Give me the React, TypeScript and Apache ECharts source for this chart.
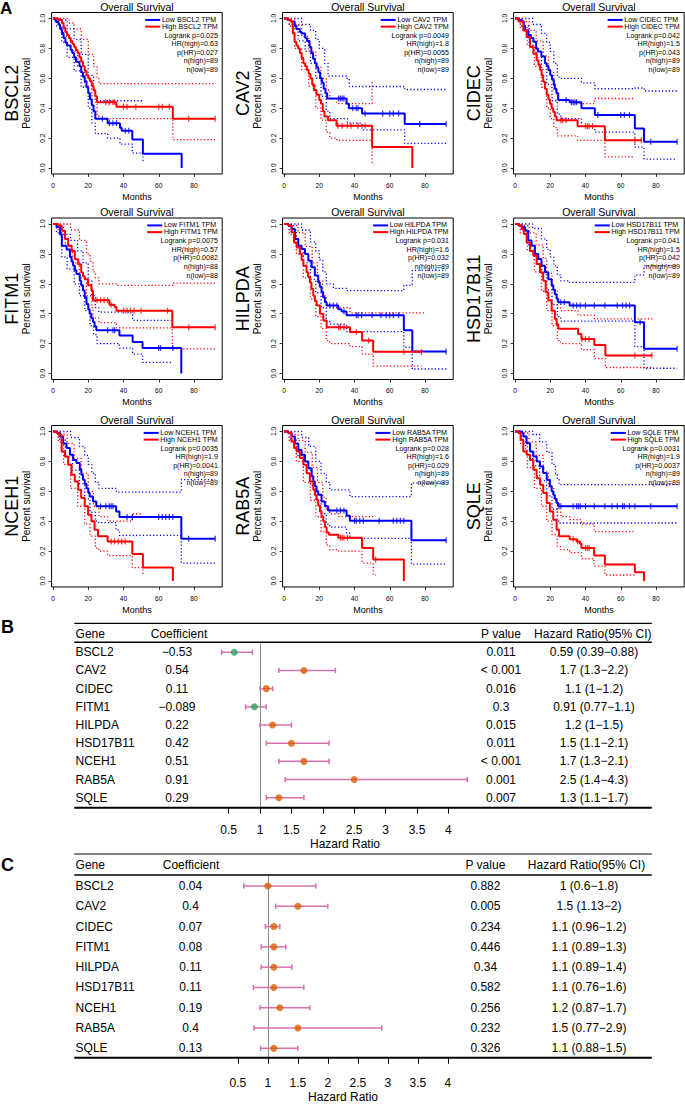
import React, { useEffect, useRef } from 'react';
import * as echarts from 'echarts';

// ---------------- KM panel data ----------------
const GENES = ['BSCL2', 'CAV2', 'CIDEC', 'FITM1', 'HILPDA', 'HSD17B11', 'NCEH1', 'RAB5A', 'SQLE'];
const LOGRANK_P = ['0.025', '0.0049', '0.042', '0.0075', '0.031', '0.041', '0.0035', '0.028', '0.0031'];
const HR_HIGH = ['0.63', '1.8', '1.5', '0.57', '1.6', '1.5', '1.9', '1.6', '1.9'];
const P_HR = ['0.027', '0.0055', '0.043', '0.0082', '0.032', '0.042', '0.0041', '0.029', '0.0037'];
const N_HIGH = [89, 89, 89, 88, 89, 89, 89, 89, 89];
const N_LOW = [89, 89, 89, 88, 89, 89, 89, 89, 89];
const KM_X_TICKS = [0, 20, 40, 60, 80];
const KM_Y_TICKS = [0, 0.2, 0.4, 0.6, 0.8, 1];

const BSCL2_LOW = [[0,1],[1.5,0.98],[3,0.96],[4,0.93],[5,0.9],[6,0.87],[7,0.84],[8,0.82],[10,0.79],[11,0.77],[12,0.74],[13,0.71],[15,0.68],[16,0.64],[17,0.61],[18,0.58],[19,0.54],[20,0.5],[21,0.46],[22,0.42],[23,0.38],[24,0.33],[31,0.3],[38,0.27],[39,0.25],[45,0.19],[51,0.095],[73,0]];
const BSCL2_LOW_CENS = [[28,0.33],[32,0.3],[34,0.3],[36,0.3],[41,0.25],[43,0.25]];
const BSCL2_LOW_UP = [[0,1],[4,0.99],[8,0.93],[12,0.86],[16,0.76],[20,0.62],[23,0.52],[24,0.45],[51,0.45]];
const BSCL2_LOW_DN = [[0,1],[2,0.95],[5,0.84],[8,0.74],[12,0.65],[16,0.54],[20,0.4],[22,0.3],[24,0.23],[31,0.2],[38,0.16],[45,0.1],[51,0.04]];
const BSCL2_HIGH = [[0,1],[3,0.99],[5,0.97],[6,0.94],[7,0.91],[8,0.89],[9,0.87],[10,0.85],[11,0.83],[12,0.81],[13,0.79],[14,0.77],[15,0.74],[16,0.71],[17,0.68],[18,0.65],[19,0.62],[20,0.6],[21,0.58],[22,0.55],[23,0.52],[24,0.48],[25,0.44],[36,0.41],[68,0.33],[92,0.33]];
const BSCL2_HIGH_CENS = [[30,0.44],[32,0.44],[34,0.44],[35,0.44],[40,0.41],[42,0.41],[47,0.41],[60,0.41],[62,0.41],[66,0.41],[77,0.33],[92,0.33]];
const BSCL2_HIGH_UP = [[0,1],[6,1],[9,0.97],[12,0.93],[16,0.86],[20,0.76],[23,0.68],[25,0.6],[26,0.565],[92,0.565]];
const BSCL2_HIGH_DN = [[0,1],[3,0.97],[6,0.88],[10,0.78],[14,0.68],[18,0.55],[22,0.44],[25,0.35],[26,0.33],[68,0.19],[92,0.19]];

const CAV2_LOW = [[0,1],[2,0.99],[4,0.98],[6,0.95],[7,0.93],[9,0.91],[10,0.9],[12,0.87],[13,0.85],[14.5,0.81],[15.5,0.77],[16.5,0.73],[17.5,0.7],[18.5,0.67],[19.5,0.64],[20.5,0.6],[21.5,0.57],[22.5,0.53],[23.5,0.5],[24.5,0.465],[35.5,0.43],[36.8,0.4],[44.3,0.365],[68.5,0.295],[92,0.295]];
const CAV2_LOW_CENS = [[31,0.465],[32,0.465],[33,0.465],[34,0.465],[39,0.4],[41,0.4],[42,0.4],[46,0.365],[56,0.365],[60,0.365],[62,0.365],[65,0.365],[77,0.295],[92,0.295]];
const CAV2_LOW_UP = [[0,1],[6,1],[10,0.96],[15,0.92],[18,0.86],[20,0.8],[23,0.7],[25,0.615],[35.5,0.6],[37,0.545],[68.5,0.525],[92,0.525]];
const CAV2_LOW_DN = [[0,1],[3,0.96],[8,0.85],[12,0.78],[15,0.7],[18,0.6],[21,0.48],[24,0.38],[26,0.33],[36,0.3],[44.3,0.255],[68.5,0.165],[92,0.165]];
const CAV2_HIGH = [[0,1],[2.5,0.99],[3.8,0.98],[5,0.9],[6,0.845],[7,0.82],[8,0.8],[9,0.77],[10,0.735],[11,0.7],[12,0.68],[13,0.655],[14,0.63],[15,0.6],[16,0.56],[17,0.52],[18.5,0.49],[20,0.455],[21,0.43],[22,0.38],[23,0.345],[25,0.32],[29.8,0.283],[50,0.14],[72.8,0]];
const CAV2_HIGH_CENS = [[30.5,0.283],[33,0.283],[36,0.283],[38,0.283],[42,0.283],[46,0.283]];
const CAV2_HIGH_UP = [[0,1],[4,1],[6,0.96],[10,0.88],[14,0.78],[18,0.68],[21,0.6],[24,0.52],[26,0.46],[30,0.43],[50,0.575],[51,0.575]];
const CAV2_HIGH_DN = [[0,1],[3,0.95],[6,0.8],[10,0.66],[14,0.55],[18,0.4],[21,0.32],[24,0.24],[26,0.2],[30,0.185],[50,0.03],[51,0.03]];

const CIDEC_LOW = [[0,1],[2,0.99],[3.8,0.98],[5,0.95],[5.7,0.92],[7.5,0.89],[9,0.87],[10.4,0.845],[12,0.8],[13,0.78],[15,0.745],[17,0.7],[18,0.68],[19,0.655],[20,0.62],[21,0.59],[22,0.56],[22.6,0.53],[23.5,0.5],[24.5,0.455],[31,0.44],[37.7,0.4],[45.3,0.355],[68,0.265],[73.2,0.175],[92,0.175]];
const CIDEC_LOW_CENS = [[29,0.455],[32,0.44],[33,0.44],[34,0.44],[35,0.44],[47,0.355],[60,0.355],[62,0.355],[65,0.355],[77,0.175],[92,0.175]];
const CIDEC_LOW_UP = [[0,1],[6,1],[10,0.96],[15,0.9],[18,0.84],[20,0.78],[22,0.7],[24,0.62],[25,0.6],[37.7,0.57],[45.3,0.53],[68,0.535],[73.2,0.515],[92,0.515]];
const CIDEC_LOW_DN = [[0,1],[3,0.95],[8,0.82],[12,0.74],[15,0.66],[18,0.56],[21,0.45],[24,0.36],[26,0.33],[37.7,0.28],[45.3,0.24],[68,0.14],[73.2,0.06],[92,0.06]];
const CIDEC_HIGH = [[0,1],[2,0.98],[4.7,0.92],[6.6,0.877],[8.5,0.81],[10.4,0.765],[12.3,0.72],[13.3,0.69],[14.2,0.655],[15.1,0.62],[16,0.577],[17,0.53],[18,0.49],[19,0.46],[19.8,0.43],[20.8,0.4],[21.7,0.375],[22.6,0.345],[23.6,0.32],[35.5,0.28],[51,0.185],[71.7,0.185]];
const CIDEC_HIGH_CENS = [[26,0.32],[27,0.32],[29,0.32],[40,0.28],[41,0.28],[42,0.28],[44,0.28],[68,0.185],[71.7,0.185]];
const CIDEC_HIGH_UP = [[0,1],[4,0.98],[8,0.92],[12,0.85],[16,0.75],[19,0.64],[22,0.52],[24,0.45],[35.5,0.43],[45,0.465],[68,0.465]];
const CIDEC_HIGH_DN = [[0,1],[3,0.94],[7,0.82],[11,0.68],[15,0.54],[18,0.4],[20,0.33],[22,0.27],[24,0.215],[35.5,0.185],[51,0.075],[68,0.075]];

const FITM1_LOW = [[0,1],[2,0.98],[4,0.93],[5,0.855],[7.7,0.83],[9.6,0.78],[10.5,0.75],[11.4,0.72],[12.4,0.69],[13.3,0.665],[15.2,0.62],[16,0.59],[17,0.555],[18,0.51],[19,0.465],[20,0.43],[20.8,0.4],[21.7,0.37],[22.7,0.345],[23.6,0.315],[24.6,0.29],[37.7,0.255],[45.2,0.21],[50.8,0.17],[72.8,0]];
const FITM1_LOW_CENS = [[31,0.29],[34,0.29],[35,0.29],[60,0.17],[61,0.17],[68,0.17]];
const FITM1_LOW_UP = [[0,1],[3,0.98],[6,0.93],[10,0.89],[14,0.82],[17,0.74],[20,0.62],[22,0.52],[24,0.44],[26,0.41],[45.2,0.355],[68,0.355]];
const FITM1_LOW_DN = [[0,1],[2,0.94],[5,0.78],[8,0.7],[12,0.6],[15,0.52],[18,0.42],[21,0.32],[23,0.26],[25,0.2],[37.7,0.17],[45.2,0.13],[50.8,0.075],[68,0.075]];
const FITM1_HIGH = [[0,1],[3,0.99],[5,0.955],[6.8,0.9],[8.6,0.855],[10.5,0.82],[12.4,0.765],[14.3,0.73],[16,0.675],[17,0.65],[18,0.63],[19.9,0.59],[21.8,0.555],[22.7,0.49],[32,0.46],[35,0.445],[36,0.42],[67.7,0.31],[92,0.31]];
const FITM1_HIGH_CENS = [[25,0.49],[27,0.49],[29,0.49],[31,0.49],[33,0.46],[40,0.42],[42,0.42],[44,0.42],[46,0.42],[50,0.42],[65,0.42],[77,0.31],[92,0.31]];
const FITM1_HIGH_UP = [[0,1],[5,1],[10,0.96],[15,0.89],[19,0.8],[21,0.75],[22.7,0.68],[24,0.64],[26,0.6],[36,0.59],[68,0.605],[92,0.605]];
const FITM1_HIGH_DN = [[0,1],[3,0.95],[7,0.85],[11,0.74],[15,0.64],[19,0.52],[22,0.44],[22.7,0.37],[26,0.34],[36,0.305],[67.7,0.165],[92,0.165]];

const HILPDA_LOW = [[0,1],[2.5,0.99],[4.3,0.967],[6.2,0.9],[8.1,0.855],[10,0.833],[11.9,0.8],[13.8,0.755],[15.7,0.71],[17.5,0.655],[19.4,0.61],[20.3,0.58],[21.3,0.545],[22.2,0.51],[23.2,0.477],[24.2,0.455],[30.8,0.43],[32.6,0.415],[35.5,0.39],[68,0.29],[72.8,0.147],[92,0.147]];
const HILPDA_LOW_CENS = [[26,0.455],[28,0.455],[30,0.455],[34,0.415],[41,0.39],[42,0.39],[44,0.39],[50,0.39],[55,0.39],[58,0.39],[60,0.39],[62,0.39],[65,0.39],[92,0.147]];
const HILPDA_LOW_UP = [[0,1],[5,1],[10,0.96],[15,0.88],[18,0.82],[20,0.76],[22,0.68],[24,0.6],[28,0.57],[35.5,0.555],[68,0.59],[72.8,0.69],[92,0.69]];
const HILPDA_LOW_DN = [[0,1],[3,0.96],[7,0.84],[11,0.74],[15,0.63],[18,0.54],[21,0.44],[24,0.35],[26,0.33],[35.5,0.28],[68,0.175],[72.8,0.03],[92,0.03]];
const HILPDA_HIGH = [[0,1],[2.5,0.99],[4.3,0.945],[5.7,0.877],[7.2,0.844],[9,0.8],[10,0.76],[11,0.72],[12.8,0.677],[13.7,0.645],[14.7,0.61],[15.6,0.565],[16.6,0.52],[17.5,0.485],[18.5,0.455],[20.4,0.4],[22.3,0.355],[24.2,0.31],[37.4,0.277],[44.3,0.22],[50.6,0.145],[78,0.145]];
const HILPDA_HIGH_CENS = [[31,0.31],[32,0.31],[34,0.31],[41,0.277],[48,0.22],[68,0.145],[78,0.145]];
const HILPDA_HIGH_UP = [[0,1],[4,0.99],[8,0.94],[12,0.85],[16,0.74],[19,0.62],[22,0.52],[24,0.46],[26,0.44],[37.4,0.405],[80,0.405]];
const HILPDA_HIGH_DN = [[0,1],[3,0.93],[7,0.8],[11,0.64],[15,0.5],[18,0.38],[21,0.3],[24,0.22],[26,0.2],[37.4,0.18],[44.3,0.13],[50.6,0.05],[78,0.05]];

const HSD17B11_LOW = [[0,1],[2,0.99],[3.8,0.98],[5.7,0.955],[7.5,0.89],[9.4,0.855],[11.3,0.8],[13.2,0.766],[15,0.72],[17,0.677],[18.9,0.63],[20.8,0.59],[21.7,0.56],[22.6,0.53],[23.6,0.5],[24.5,0.477],[31,0.455],[68,0.343],[73.2,0.165],[92,0.165]];
const HSD17B11_LOW_CENS = [[26,0.477],[28,0.477],[33,0.455],[35,0.455],[37,0.455],[40,0.455],[45,0.455],[51,0.455],[58,0.455],[61,0.455],[63,0.455],[65,0.455],[71,0.343],[92,0.165]];
const HSD17B11_LOW_UP = [[0,1],[5,1],[10,0.97],[15,0.9],[18,0.83],[20,0.78],[22,0.72],[24,0.66],[26,0.62],[30,0.61],[68,0.66],[73.2,0.72],[92,0.72]];
const HSD17B11_LOW_DN = [[0,1],[3,0.96],[7,0.86],[11,0.76],[15,0.66],[18,0.56],[21,0.46],[24,0.38],[26,0.35],[68,0.18],[73.2,0.035],[92,0.035]];
const HSD17B11_HIGH = [[0,1],[2,0.99],[3.8,0.966],[5,0.933],[6.6,0.877],[8.5,0.82],[10.4,0.79],[12.3,0.733],[14.2,0.677],[16,0.62],[17.4,0.543],[18.9,0.488],[20.8,0.42],[22.6,0.365],[23.6,0.33],[24.5,0.3],[35.8,0.265],[37.7,0.23],[45,0.19],[51.3,0.12],[77.7,0.12]];
const HSD17B11_HIGH_CENS = [[38,0.23],[40,0.23],[42,0.23],[68,0.12],[77.7,0.12]];
const HSD17B11_HIGH_UP = [[0,1],[4,0.99],[8,0.94],[12,0.86],[16,0.77],[18,0.67],[21,0.56],[24,0.44],[26,0.42],[35.8,0.39],[45,0.365],[78,0.365]];
const HSD17B11_HIGH_DN = [[0,1],[3,0.94],[7,0.82],[11,0.68],[15,0.55],[18,0.42],[21,0.32],[24,0.22],[26,0.2],[37.7,0.16],[45,0.1],[51.3,0.04],[78,0.04]];

const NCEH1_LOW = [[0,1],[2,0.99],[4,0.967],[5.8,0.92],[7.7,0.89],[9.6,0.845],[11.4,0.81],[13.3,0.79],[15.2,0.745],[16.1,0.71],[17,0.677],[18,0.65],[19,0.62],[20,0.59],[20.8,0.566],[22.7,0.532],[24.6,0.5],[35.8,0.465],[37.7,0.428],[72.8,0.283],[92,0.283]];
const NCEH1_LOW_CENS = [[27,0.5],[30,0.5],[32,0.5],[33,0.5],[34,0.5],[42,0.428],[45,0.428],[60,0.428],[62,0.428],[64,0.428],[66,0.428],[68,0.428],[77,0.283],[92,0.283]];
const NCEH1_LOW_UP = [[0,1],[5,1],[10,0.96],[15,0.9],[18,0.84],[20,0.78],[22,0.72],[24,0.66],[26,0.62],[36,0.595],[72.8,0.678],[92,0.678]];
const NCEH1_LOW_DN = [[0,1],[3,0.95],[7,0.83],[11,0.74],[15,0.65],[18,0.55],[21,0.46],[24,0.4],[26,0.39],[35.8,0.34],[37.7,0.305],[72.8,0.12],[92,0.12]];
const NCEH1_HIGH = [[0,1],[2,0.99],[3,0.978],[4.9,0.866],[6.8,0.833],[8.6,0.777],[10.5,0.71],[12.4,0.666],[14.3,0.61],[16,0.555],[18,0.5],[19.9,0.443],[21.8,0.4],[23.6,0.343],[25.5,0.3],[31,0.265],[45,0.18],[51,0.09],[68,0]];
const NCEH1_HIGH_CENS = [[33,0.265],[35,0.265],[37,0.265],[39,0.265],[41,0.265]];
const NCEH1_HIGH_UP = [[0,1],[4,0.98],[8,0.92],[12,0.82],[16,0.72],[20,0.6],[23,0.5],[26,0.43],[31,0.4],[45,0.45],[51,0.45]];
const NCEH1_HIGH_DN = [[0,1],[3,0.93],[6,0.78],[10,0.62],[14,0.5],[18,0.38],[21,0.3],[24,0.22],[26,0.2],[31,0.17],[45,0.09],[51,0.04]];

const RAB5A_LOW = [[0,1],[2.5,0.99],[4.3,0.967],[6.2,0.92],[8.1,0.877],[10,0.844],[11.9,0.8],[13.8,0.755],[15.7,0.7],[16.6,0.665],[17.5,0.633],[18.5,0.6],[19.4,0.577],[21.3,0.532],[23.2,0.5],[25,0.472],[35.5,0.437],[37.4,0.403],[72.3,0.272],[92,0.272]];
const RAB5A_LOW_CENS = [[30,0.472],[32,0.472],[34,0.472],[40,0.403],[41,0.403],[43,0.403],[45,0.403],[54,0.403],[62,0.403],[64,0.403],[66,0.403],[68,0.403],[92,0.272]];
const RAB5A_LOW_UP = [[0,1],[5,1],[10,0.96],[14,0.9],[18,0.8],[21,0.72],[24,0.66],[26,0.61],[37.4,0.565],[72.3,0.655],[92,0.655]];
const RAB5A_LOW_DN = [[0,1],[3,0.95],[7,0.84],[11,0.74],[15,0.64],[18,0.54],[21,0.45],[24,0.38],[26,0.36],[35.5,0.32],[37.4,0.285],[72.3,0.113],[92,0.113]];
const RAB5A_HIGH = [[0,1],[2.5,0.99],[4.3,0.933],[5.7,0.89],[7.2,0.866],[9,0.822],[11,0.777],[12.8,0.72],[14.7,0.666],[16.6,0.61],[17.5,0.575],[18.5,0.543],[19.4,0.505],[20.4,0.465],[21.3,0.43],[22.3,0.4],[23.2,0.36],[24.2,0.325],[25.5,0.31],[30.8,0.29],[44.3,0.22],[50.6,0.143],[68,0]];
const RAB5A_HIGH_CENS = [[32,0.29],[33,0.29],[34,0.29],[36,0.29],[52,0.143]];
const RAB5A_HIGH_UP = [[0,1],[4,0.98],[8,0.94],[12,0.86],[16,0.76],[19,0.66],[22,0.56],[24,0.48],[26,0.45],[31,0.43],[52,0.43]];
const RAB5A_HIGH_DN = [[0,1],[3,0.93],[7,0.8],[11,0.66],[15,0.54],[18,0.43],[21,0.33],[24,0.24],[26,0.21],[31,0.2],[44.3,0.12],[50.6,0.04],[52,0.04]];

const SQLE_LOW = [[0,1],[3.8,0.99],[4.7,0.967],[6.6,0.922],[8.5,0.866],[10.4,0.833],[12.3,0.8],[14.2,0.766],[16,0.722],[18,0.677],[19.8,0.633],[20.8,0.6],[21.7,0.577],[22.6,0.55],[23.6,0.521],[24.5,0.5],[92,0.5]];
const SQLE_LOW_CENS = [[25,0.5],[26,0.5],[33,0.5],[35,0.5],[36,0.5],[37,0.5],[40,0.5],[45,0.5],[51,0.5],[55,0.5],[58,0.5],[61,0.5],[62,0.5],[65,0.5],[68,0.5],[77,0.5],[92,0.5]];
const SQLE_LOW_UP = [[0,1],[6,1],[10,0.98],[14,0.93],[18,0.86],[21,0.78],[23,0.72],[24,0.68],[25,0.644],[92,0.644]];
const SQLE_LOW_DN = [[0,1],[3,0.97],[6,0.87],[10,0.77],[14,0.67],[18,0.57],[21,0.48],[24,0.4],[25,0.388],[92,0.388]];
const SQLE_HIGH = [[0,1],[1.9,0.99],[3.2,0.944],[4.7,0.866],[6.6,0.844],[8.5,0.81],[10.4,0.744],[12.3,0.688],[14.2,0.644],[16,0.588],[18,0.521],[19.8,0.465],[21.7,0.41],[23.6,0.343],[25,0.3],[31,0.28],[34.9,0.265],[36.8,0.25],[37.7,0.22],[44.9,0.17],[51,0.11],[68,0.058],[73.2,0]];
const SQLE_HIGH_CENS = [[33,0.28],[35.5,0.265],[40,0.22],[41,0.22],[42,0.22]];
const SQLE_HIGH_UP = [[0,1],[4,0.99],[8,0.93],[12,0.84],[16,0.73],[19,0.63],[22,0.54],[24,0.46],[26,0.43],[31,0.41],[37.7,0.38],[44.9,0.33],[68,0.33]];
const SQLE_HIGH_DN = [[0,1],[3,0.92],[7,0.76],[11,0.62],[15,0.5],[18,0.4],[21,0.31],[24,0.23],[26,0.21],[31,0.19],[37.7,0.15],[44.9,0.1],[51,0.04],[68,0.04]];

const KM_CURVES = [
  [BSCL2_LOW, BSCL2_LOW_UP, BSCL2_LOW_DN, BSCL2_LOW_CENS, BSCL2_HIGH, BSCL2_HIGH_UP, BSCL2_HIGH_DN, BSCL2_HIGH_CENS],
  [CAV2_LOW, CAV2_LOW_UP, CAV2_LOW_DN, CAV2_LOW_CENS, CAV2_HIGH, CAV2_HIGH_UP, CAV2_HIGH_DN, CAV2_HIGH_CENS],
  [CIDEC_LOW, CIDEC_LOW_UP, CIDEC_LOW_DN, CIDEC_LOW_CENS, CIDEC_HIGH, CIDEC_HIGH_UP, CIDEC_HIGH_DN, CIDEC_HIGH_CENS],
  [FITM1_LOW, FITM1_LOW_UP, FITM1_LOW_DN, FITM1_LOW_CENS, FITM1_HIGH, FITM1_HIGH_UP, FITM1_HIGH_DN, FITM1_HIGH_CENS],
  [HILPDA_LOW, HILPDA_LOW_UP, HILPDA_LOW_DN, HILPDA_LOW_CENS, HILPDA_HIGH, HILPDA_HIGH_UP, HILPDA_HIGH_DN, HILPDA_HIGH_CENS],
  [HSD17B11_LOW, HSD17B11_LOW_UP, HSD17B11_LOW_DN, HSD17B11_LOW_CENS, HSD17B11_HIGH, HSD17B11_HIGH_UP, HSD17B11_HIGH_DN, HSD17B11_HIGH_CENS],
  [NCEH1_LOW, NCEH1_LOW_UP, NCEH1_LOW_DN, NCEH1_LOW_CENS, NCEH1_HIGH, NCEH1_HIGH_UP, NCEH1_HIGH_DN, NCEH1_HIGH_CENS],
  [RAB5A_LOW, RAB5A_LOW_UP, RAB5A_LOW_DN, RAB5A_LOW_CENS, RAB5A_HIGH, RAB5A_HIGH_UP, RAB5A_HIGH_DN, RAB5A_HIGH_CENS],
  [SQLE_LOW, SQLE_LOW_UP, SQLE_LOW_DN, SQLE_LOW_CENS, SQLE_HIGH, SQLE_HIGH_UP, SQLE_HIGH_DN, SQLE_HIGH_CENS],
];

// ---------------- Forest data ----------------
const FOREST_TICKS = [0.5, 1, 1.5, 2, 2.5, 3, 3.5, 4];
const B_COEF = ['\u22120.53', '0.54', '0.11', '\u22120.089', '0.22', '0.42', '0.51', '0.91', '0.29'];
const B_P = ['0.011', '< 0.001', '0.016', '0.3', '0.015', '0.011', '< 0.001', '0.001', '0.007'];
const B_HR = [0.59, 1.7, 1.1, 0.91, 1.2, 1.5, 1.7, 2.5, 1.3];
const B_LO = [0.39, 1.3, 1, 0.77, 1, 1.1, 1.3, 1.4, 1.1];
const B_HI = [0.88, 2.2, 1.2, 1.1, 1.5, 2.1, 2.1, 4.3, 1.7];
const C_COEF = ['0.04', '0.4', '0.07', '0.08', '0.11', '0.11', '0.19', '0.4', '0.13'];
const C_P = ['0.882', '0.005', '0.234', '0.446', '0.34', '0.582', '0.256', '0.232', '0.326'];
const C_HR = [1, 1.5, 1.1, 1.1, 1.1, 1.1, 1.2, 1.5, 1.1];
const C_LO = [0.6, 1.13, 0.96, 0.89, 0.89, 0.76, 0.87, 0.77, 0.88];
const C_HI = [1.8, 2, 1.2, 1.3, 1.4, 1.6, 1.7, 2.9, 1.5];

// ---------------- layout & style ----------------
const FONT = '"Liberation Sans", Arial, Helvetica, sans-serif';
const BLUE = '#0000FF';
const RED = '#FF0000';
const ORANGE = '#D95F02';
const GREEN = '#2CA25F';
const BAR = '#D670AE';

const COL_X0 = [53, 284, 515];
const PX_PER_MONTH = 1.7625;
const ROW_S1 = [18.5, 224, 431.5];
const PX_PER_UNIT = 149.5;
const X_MIN = -0.8, X_MAX = 96, Y_MIN = -0.04, Y_MAX = 1.04;
const LEG_FONT = 7.1;
const LEG_DY = [7.4, 14.1, 23.3, 31.6, 40.2, 48.9, 57.6];

let measureCtx: CanvasRenderingContext2D | null = null;
function textWidth(t: string, size: number): number {
  if (!measureCtx) measureCtx = document.createElement('canvas').getContext('2d');
  if (!measureCtx) return t.length * size * 0.55;
  measureCtx.font = `${size}px "Liberation Sans", Arial, sans-serif`;
  return measureCtx.measureText(t).width;
}

function txt(text: string, x: number, y: number, size: number, align = 'left', vAlign = 'middle', opts: any = {}) {
  return {
    type: 'text', x, y, rotation: opts.rotation || 0, silent: true, z: 50,
    style: {
      text, fontSize: size, fontFamily: FONT, fontWeight: opts.bold ? 'bold' : 'normal',
      fill: opts.color || '#000', align, verticalAlign: vAlign, textAlign: align, textVerticalAlign: vAlign,
    },
  };
}
function seg(x1: number, y1: number, x2: number, y2: number, w: number, color: string) {
  return { type: 'line', silent: true, z: 50, shape: { x1, y1, x2, y2 }, style: { stroke: color, lineWidth: w } };
}

function buildOption() {
  const grid: any[] = [], xAxis: any[] = [], yAxis: any[] = [], series: any[] = [], graphic: any[] = [];

  GENES.forEach((gene, i) => {
    const r = Math.floor(i / 3), c = i % 3;
    const left = COL_X0[c] + X_MIN * PX_PER_MONTH;
    const width = (X_MAX - X_MIN) * PX_PER_MONTH;
    const top = ROW_S1[r] - (Y_MAX - 1) * PX_PER_UNIT;
    const height = (Y_MAX - Y_MIN) * PX_PER_UNIT;
    const right = left + width, bottom = top + height;
    grid.push({ left, top, width, height, show: true, borderColor: '#000', borderWidth: 1, backgroundColor: 'transparent' });
    xAxis.push({
      gridIndex: i, type: 'value', min: X_MIN, max: X_MAX, position: 'bottom',
      axisLine: { show: false, onZero: false }, splitLine: { show: false },
      axisTick: { show: true, length: 3, customValues: KM_X_TICKS, lineStyle: { color: '#000', width: 0.8 } },
      axisLabel: { customValues: KM_X_TICKS, fontSize: 6.6, color: '#000', margin: 8, fontFamily: FONT },
    });
    yAxis.push({
      gridIndex: i, type: 'value', min: Y_MIN, max: Y_MAX, position: 'left',
      axisLine: { show: false, onZero: false }, splitLine: { show: false },
      axisTick: { show: true, length: 3, customValues: KM_Y_TICKS, lineStyle: { color: '#000', width: 0.8 } },
      axisLabel: { customValues: KM_Y_TICKS, rotate: 90, fontSize: 6.6, color: '#000', margin: 6, fontFamily: FONT,
        formatter: (v: number) => v.toFixed(1) },
    });
    const [low, lowUp, lowDn, lowCens, high, highUp, highDn, highCens] = KM_CURVES[i];
    const ci = (data: number[][], color: string) => ({
      type: 'line', xAxisIndex: i, yAxisIndex: i, data, step: 'end', symbol: 'none', showSymbol: false, silent: true, z: 2,
      lineStyle: { color, width: 1.3, type: [1.2, 2.2] },
    });
    const main = (data: number[][], color: string) => ({
      type: 'line', xAxisIndex: i, yAxisIndex: i, data, step: 'end', symbol: 'none', showSymbol: false, silent: true, z: 3,
      lineStyle: { color, width: 2 },
    });
    const cens = (data: number[][], color: string) => ({
      type: 'scatter', xAxisIndex: i, yAxisIndex: i, data, symbol: 'rect', symbolSize: [1.2, 6], silent: true, z: 4,
      itemStyle: { color },
    });
    series.push(ci(lowUp, BLUE), ci(lowDn, BLUE), ci(highUp, RED), ci(highDn, RED));
    series.push(main(low, BLUE), main(high, RED));
    series.push(cens(lowCens, BLUE), cens(highCens, RED));

    // texts
    const cx = (left + right) / 2, cy = (top + bottom) / 2;
    graphic.push(txt('Overall Survival', cx, top - 6, 10.5, 'center', 'middle'));
    graphic.push(txt('Months', cx, bottom + 23, 9, 'center', 'middle'));
    graphic.push(txt('Percent survival', left - 25, cy, 10, 'center', 'middle', { rotation: Math.PI / 2 }));
    graphic.push(txt(gene, left - 40, cy, 18, 'center', 'middle', { rotation: Math.PI / 2 }));
    const lowLab = `Low ${gene} TPM`, highLab = `High ${gene} TPM`;
    const tl = right - 4.3 - Math.max(textWidth(lowLab, LEG_FONT), textWidth(highLab, LEG_FONT));
    graphic.push(seg(tl - 16.7, top + LEG_DY[0], tl - 1.7, top + LEG_DY[0], 2, BLUE));
    graphic.push(seg(tl - 16.7, top + LEG_DY[1], tl - 1.7, top + LEG_DY[1], 2, RED));
    graphic.push(txt(lowLab, tl, top + LEG_DY[0], LEG_FONT, 'left', 'middle'));
    graphic.push(txt(highLab, tl, top + LEG_DY[1], LEG_FONT, 'left', 'middle'));
    const stats = [`Logrank p=${LOGRANK_P[i]}`, `HR(high)=${HR_HIGH[i]}`, `p(HR)=${P_HR[i]}`, `n(high)=${N_HIGH[i]}`, `n(low)=${N_LOW[i]}`];
    stats.forEach((s, k) => graphic.push(txt(s, right - 4.3, top + LEG_DY[k + 2], LEG_FONT, 'right', 'middle')));
  });

  graphic.push(txt('A', 0, 8.5, 17, 'left', 'middle', { bold: true }));
  graphic.push(txt('B', 1, 627, 18, 'left', 'middle', { bold: true }));
  graphic.push(txt('C', 1, 865, 18, 'left', 'middle', { bold: true }));

  const forests = [
    { zeroX: 197.2, pxHR: 62.8, top: 642.3, bottom: 807.7, ruleTop: 623.3, headY: 634, yMin: -0.55, yMax: 8.55,
      coefX: 177, coefHX: 179, pX: 501, hrX: 594, hrHX: 592.8, margin: 16, titleX: 345, titleY: 844,
      coef: B_COEF, p: B_P, hr: B_HR, lo: B_LO, hi: B_HI },
    { zeroX: 207.8, pxHR: 60, top: 875, bottom: 1057.7, ruleTop: 854, headY: 865, yMin: -0.54, yMax: 8.46,
      coefX: 190.5, coefHX: 191, pX: 485.4, hrX: 589, hrHX: 586.5, margin: 19, titleX: 343, titleY: 1096.7,
      coef: C_COEF, p: C_P, hr: C_HR, lo: C_LO, hi: C_HI },
  ];
  forests.forEach((f, k) => {
    const gi = 9 + k;
    const height = f.bottom - f.top;
    grid.push({ left: f.zeroX, top: f.top, width: 5 * f.pxHR, height, show: false });
    xAxis.push({
      gridIndex: gi, type: 'value', min: 0, max: 5, interval: 0.5, position: 'bottom',
      axisLine: { show: false, onZero: false }, splitLine: { show: false },
      axisTick: { show: true, length: 6, customValues: FOREST_TICKS, lineStyle: { color: '#000', width: 1 } },
      axisLabel: { customValues: FOREST_TICKS, fontSize: 12, color: '#000', margin: f.margin, fontFamily: FONT,
        formatter: (v: number) => (v < 0.5 || v > 4 ? '' : String(v)) },
    });
    yAxis.push({ gridIndex: gi, type: 'value', min: f.yMin, max: f.yMax, inverse: true, show: false,
      axisLine: { onZero: false } });
    const unit = height / (f.yMax - f.yMin);
    const rowY = (i: number) => f.top + (i - f.yMin) * unit;

    series.push({
      type: 'custom', xAxisIndex: gi, yAxisIndex: gi, silent: true, z: 4,
      data: GENES.map((g, i) => [f.lo[i], f.hi[i], i]),
      encode: { x: [0, 1], y: 2 },
      renderItem: (params: any, api: any) => {
        const a = api.coord([api.value(0), api.value(2)]);
        const b = api.coord([api.value(1), api.value(2)]);
        const h = 2.6;
        const style = { stroke: BAR, lineWidth: 1.5 };
        return {
          type: 'group', children: [
            { type: 'line', shape: { x1: a[0], y1: a[1], x2: b[0], y2: b[1] }, style },
            { type: 'line', shape: { x1: a[0], y1: a[1] - h, x2: a[0], y2: a[1] + h }, style },
            { type: 'line', shape: { x1: b[0], y1: b[1] - h, x2: b[0], y2: b[1] + h }, style },
          ],
        };
      },
      markLine: {
        silent: true, symbol: ['none', 'none'], label: { show: false }, z: 1,
        lineStyle: { color: '#8c8c8c', width: 1, type: 'solid' },
        data: [{ xAxis: 1 }],
      },
    });
    series.push({
      type: 'scatter', xAxisIndex: gi, yAxisIndex: gi, silent: true, z: 5, symbolSize: 7,
      data: GENES.map((g, i) => ({ value: [f.hr[i], i], itemStyle: { color: f.hr[i] < 1 ? GREEN : ORANGE } })),
    });

    // table
    graphic.push(seg(74.3, f.ruleTop, 651.8, f.ruleTop, 1.2, '#000'));
    graphic.push(seg(74.3, f.top, 651.8, f.top, 1.6, '#000'));
    graphic.push(seg(74.3, f.bottom, 651.8, f.bottom, 2, '#000'));
    graphic.push(txt('Gene', 75.6, f.headY, 12, 'left'));
    graphic.push(txt('Coefficient', f.coefHX, f.headY, 12, 'center'));
    graphic.push(txt('P value', f.pX, f.headY, 12, 'center'));
    graphic.push(txt('Hazard Ratio(95% CI)', f.hrHX, f.headY, 12, 'center'));
    GENES.forEach((g, i) => {
      const y = rowY(i);
      graphic.push(txt(g, 75.6, y, 12, 'left'));
      graphic.push(txt(f.coef[i], f.coefX, y, 12, 'center'));
      graphic.push(txt(f.p[i], f.pX, y, 12, 'center'));
      graphic.push(txt(`${f.hr[i]} (${f.lo[i]}\u2212${f.hi[i]})`, f.hrX, y, 12, 'center'));
    });
    graphic.push(txt('Hazard Ratio', f.titleX, f.titleY, 12, 'center'));
  });

  return { animation: false, backgroundColor: '#fff', grid, xAxis, yAxis, series, graphic };
}

export default function App() {
  const ref = useRef<HTMLDivElement>(null);
  useEffect(() => {
    document.body.style.margin = '0';
    const chart = echarts.init(ref.current as HTMLDivElement, undefined, { renderer: 'svg' });
    chart.setOption(buildOption() as any);
    return () => chart.dispose();
  }, []);
  return <div ref={ref} style={{ width: 685, height: 1104 }} />;
}
